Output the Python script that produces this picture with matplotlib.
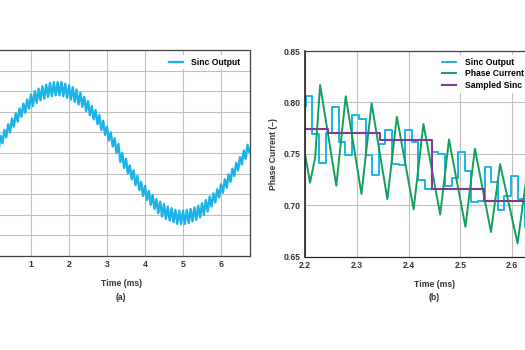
import matplotlib.pyplot as plt
import numpy as np

plt.rcParams['font.family'] = ['Liberation Sans', 'DejaVu Sans']
plt.rcParams['font.weight'] = 'bold'
plt.rcParams['axes.labelweight'] = 'bold'
plt.rcParams['font.size'] = 6.2

BLUE = '#1cb4e8'
GREEN = '#12a05c'
PURPLE = '#7d3c98'
GRID = '#bfbfbf'
TXT = '#333333'

# ---- (a) sinc output over one period, ripple peaks / valleys every 0.1 ms
sinc_a_hi = [0.07, 0.14, 0.21, 0.28, 0.35, 0.42, 0.48, 0.54, 0.60, 0.65,
             0.71, 0.75, 0.78, 0.81, 0.83, 0.85, 0.86, 0.86, 0.86, 0.84,
             0.82, 0.80, 0.77, 0.73, 0.68, 0.63, 0.57, 0.52, 0.46, 0.39,
             0.32, 0.25, 0.18, 0.11, 0.00, -0.07, -0.15, -0.21, -0.28, -0.35,
             -0.40, -0.46, -0.51, -0.56, -0.59, -0.62, -0.65, -0.67, -0.69, -0.70,
             -0.70, -0.69, -0.68, -0.66, -0.64, -0.61, -0.57, -0.53, -0.49, -0.44,
             -0.38, -0.32, -0.26, -0.19, -0.12, -0.05, 0.03, 0.10]
sinc_a_lo = [-0.03, 0.04, 0.12, 0.19, 0.25, 0.32, 0.38, 0.44, 0.49, 0.54,
             0.57, 0.61, 0.64, 0.66, 0.68, 0.69, 0.70, 0.70, 0.69, 0.67,
             0.65, 0.62, 0.59, 0.56, 0.51, 0.46, 0.41, 0.35, 0.28, 0.22,
             0.15, 0.08, 0.00, -0.11, -0.18, -0.25, -0.32, -0.39, -0.45, -0.52,
             -0.57, -0.63, -0.68, -0.73, -0.77, -0.80, -0.82, -0.84, -0.86, -0.86,
             -0.86, -0.85, -0.83, -0.81, -0.78, -0.75, -0.71, -0.65, -0.60, -0.54,
             -0.48, -0.42, -0.35, -0.28, -0.21, -0.14, -0.07, 0.01]
t_a = np.arange(len(sinc_a_hi) * 2) * 0.05   # sample clock, ms
sinc_a = [v for pair in zip(sinc_a_hi, sinc_a_lo) for v in pair]

# ---- (b) zoom 2.2 .. 2.7 ms
sinc_t = [2.200, 2.201, 2.214, 2.227, 2.240, 2.253, 2.265, 2.278, 2.291, 2.304,
          2.317, 2.329, 2.342, 2.355, 2.368, 2.381, 2.393, 2.406, 2.419, 2.432,
          2.445, 2.457, 2.470, 2.483, 2.496, 2.509, 2.521, 2.534, 2.547, 2.560,
          2.573, 2.585, 2.598, 2.611, 2.624, 2.637]
sinc_v = [0.797, 0.806, 0.769, 0.741, 0.770, 0.796, 0.762, 0.749, 0.788, 0.784,
          0.749, 0.729, 0.760, 0.773, 0.740, 0.739, 0.773, 0.762, 0.725, 0.716,
          0.752, 0.750, 0.719, 0.727, 0.752, 0.733, 0.703, 0.704, 0.737, 0.723,
          0.695, 0.709, 0.728, 0.706, 0.679, 0.700]

phase_t = [2.200, 2.2097, 2.2195, 2.2292, 2.2604, 2.2786, 2.309, 2.3286, 2.359, 2.3773,
           2.4097, 2.4286, 2.461, 2.478, 2.5097, 2.528, 2.559, 2.5766, 2.6104, 2.6286]
phase_v = [0.750, 0.722, 0.746, 0.817, 0.719, 0.806, 0.711, 0.799, 0.706, 0.786,
           0.696, 0.779, 0.691, 0.764, 0.679, 0.755, 0.674, 0.740, 0.663, 0.731]

samp_t = [2.200, 2.2448, 2.3448, 2.4448, 2.5448, 2.7]
samp_v = [0.774, 0.770, 0.763, 0.716, 0.704, 0.704]

fig = plt.figure(figsize=(5.25, 3.5), dpi=100)
axa = fig.add_axes([-7 / 525, 94 / 350, 256.5 / 525, 206 / 350])
axb = fig.add_axes([305 / 525, 93.3 / 350, 259 / 525, 205.7 / 350])

axa.plot(t_a, sinc_a, color=BLUE, lw=1.7, label='Sinc Output')
axa.set_xlim(0, 6.75)
axa.set_ylim(-1.25, 1.25)
axa.set_xticks(range(1, 7))
axa.set_yticks(np.arange(-1.25, 1.26, 0.25))
axa.set_yticklabels([])
axa.set_xlabel('Time (ms)', color=TXT, labelpad=7)
axa.text(0.5, -0.2, '(a)', transform=axa.transAxes, ha='center', va='center', color=TXT)
axa.legend(loc='upper right', bbox_to_anchor=(0.975, 0.975), frameon=True, fancybox=False,
           facecolor='white', edgecolor='none', framealpha=1, handlelength=1.6,
           handletextpad=1.0, borderpad=0.3, borderaxespad=0)

axb.step(sinc_t, sinc_v, where='post', color=BLUE, lw=1.4, label='Sinc Output')
axb.plot(phase_t, phase_v, color=GREEN, lw=1.4, label='Phase Current')
axb.step(samp_t, samp_v, where='post', color=PURPLE, lw=1.5, label='Sampled Sinc')
axb.set_xlim(2.2, 2.7)
axb.set_ylim(0.65, 0.85)
axb.set_xticks([2.2, 2.3, 2.4, 2.5, 2.6])
axb.set_yticks([0.65, 0.70, 0.75, 0.80, 0.85])
axb.set_yticklabels(['0.65', '0.70', '0.75', '0.80', '0.85'])
axb.set_xlabel('Time (ms)', color=TXT, labelpad=7)
axb.set_ylabel('Phase Current (–)', color=TXT, labelpad=4)
axb.text(0.5, -0.2, '(b)', transform=axb.transAxes, ha='center', va='center', color=TXT)
axb.legend(loc='upper left', bbox_to_anchor=(0.52, 0.98), frameon=True, fancybox=False,
           facecolor='white', edgecolor='none', framealpha=1, handlelength=1.6,
           handletextpad=1.0, labelspacing=0.32, borderpad=0.3, borderaxespad=0)

for ax in (axa, axb):
    ax.grid(True, color=GRID, lw=0.8)
    ax.set_axisbelow(True)
    ax.tick_params(length=0, pad=3, labelcolor=TXT)
    for s in ax.spines.values():
        s.set_color('#444444')
        s.set_linewidth(0.9)
axb.spines['left'].set_color('#222222')
axb.spines['left'].set_linewidth(1.2)
axb.spines['bottom'].set_color('#222222')

fig.savefig('out.png', dpi=100)
